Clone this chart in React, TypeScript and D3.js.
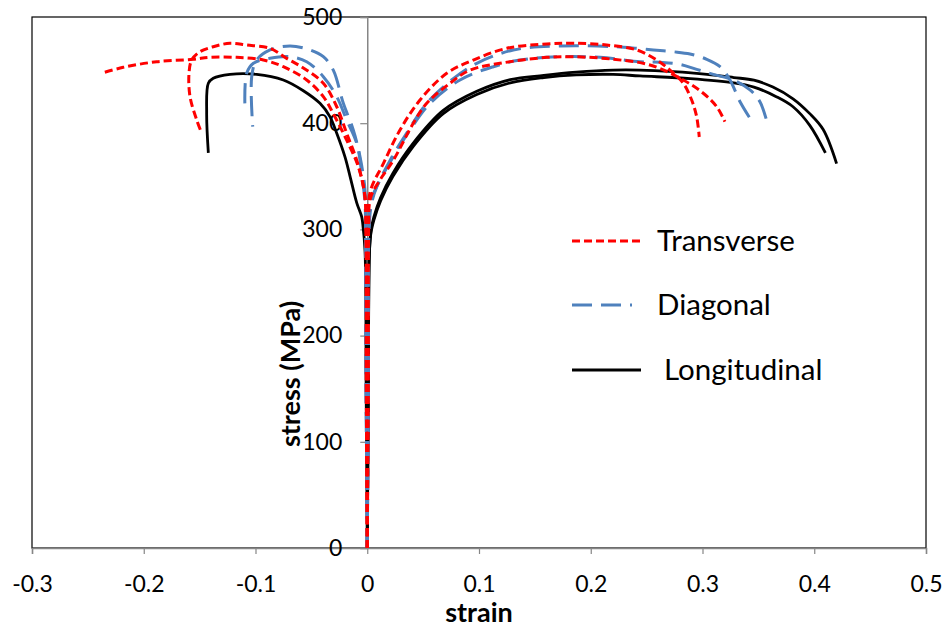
import React, { useEffect, useRef } from "react";
import * as d3 from "d3";

type Pt = [number, number];

const xTicks = [-0.3, -0.2, -0.1, 0, 0.1, 0.2, 0.3, 0.4, 0.5];
const yTicks = [0, 100, 200, 300, 400, 500];

// Transverse specimens (axial strain > 0, lateral strain < 0)
const transverseA: Pt[] = [
  [0, 0], [0.0008, 150], [0.0012, 300], [0.0025, 335], [0.0144, 362], [0.0293, 393.6],
  [0.0472, 421.8], [0.0711, 447], [0.0949, 459.5], [0.1248, 470.5], [0.1606, 474.6],
  [0.1844, 475.3], [0.2143, 473.6], [0.2411, 469], [0.259, 459.5], [0.2709, 450],
  [0.2828, 437.6], [0.2903, 421.8], [0.2948, 406], [0.2971, 387],
];
const transverseB: Pt[] = [
  [0, 0], [0.0008, 150], [0.0012, 300], [0.003, 330], [0.0114, 346.5], [0.0233, 365],
  [0.0412, 400], [0.0532, 418.7], [0.074, 437.6], [0.0919, 450], [0.1188, 456.4],
  [0.1606, 462], [0.1844, 462.6], [0.2202, 460.2], [0.253, 454.8], [0.2828, 440.7],
  [0.3007, 428.2], [0.3127, 415.5], [0.3201, 401.4],
];
const transverseALat: Pt[] = [
  [0, 0], [-0.0008, 150], [-0.001, 300], [-0.0025, 335], [-0.0094, 365], [-0.0184, 390.5],
  [-0.0273, 415.5], [-0.0393, 437.6], [-0.0572, 452], [-0.0721, 461], [-0.087, 470.5],
  [-0.1079, 473.6], [-0.1228, 475.3], [-0.1378, 472], [-0.1497, 467.3], [-0.1571, 459.5],
  [-0.1595, 447], [-0.1586, 425], [-0.1526, 403], [-0.1481, 390.5],
];
const transverseBLat: Pt[] = [
  [0, 0], [-0.0008, 150], [-0.0012, 300], [-0.002, 330], [-0.008, 359], [-0.0184, 384],
  [-0.0304, 409], [-0.0393, 425], [-0.0542, 440.7], [-0.0751, 453.2], [-0.093, 459.5],
  [-0.1168, 462], [-0.1407, 462], [-0.1556, 460.2], [-0.1884, 457.9], [-0.2183, 452.6],
  [-0.2362, 447.6],
];

// Diagonal specimens
const diagonalA: Pt[] = [
  [0, 0], [0.001, 150], [0.0015, 300], [0.003, 325], [0.007, 337], [0.0204, 365],
  [0.0353, 390.6], [0.0532, 418.7], [0.077, 442], [0.098, 456.4], [0.1307, 468.9],
  [0.1725, 472.7], [0.2202, 472.1], [0.2411, 470.5], [0.256, 469], [0.2739, 467.3],
  [0.2888, 465.2], [0.3038, 460.2], [0.3157, 453.2], [0.3246, 440.7], [0.3336, 420.2],
  [0.3425, 404.6],
];
const diagonalB: Pt[] = [
  [0, 0], [0.001, 150], [0.0015, 300], [0.004, 325], [0.0085, 340], [0.0233, 368.5],
  [0.0383, 393.6], [0.0562, 418.7], [0.083, 440.7], [0.1128, 453.2], [0.1367, 459.5],
  [0.1725, 462.6], [0.2083, 462], [0.2441, 457.9], [0.262, 457.3], [0.2799, 455.4],
  [0.2948, 450.7], [0.3097, 446], [0.3276, 440.7], [0.3425, 431.3], [0.3514, 420.2],
  [0.3589, 396.7],
];
const diagonalALat: Pt[] = [
  [0, 0], [-0.001, 150], [-0.0015, 300], [-0.002, 337], [-0.0065, 368.5], [-0.0125, 393.6],
  [-0.0214, 418.7], [-0.0304, 450], [-0.0393, 462.6], [-0.0512, 469], [-0.0691, 472.7],
  [-0.087, 469], [-0.099, 459.5], [-0.1034, 443.8], [-0.1025, 396.7],
];
const diagonalBLat: Pt[] = [
  [0, 0], [-0.001, 150], [-0.0015, 300], [-0.002, 324.6], [-0.005, 352.8], [-0.0094, 381],
  [-0.0184, 403], [-0.0273, 425], [-0.0393, 443.8], [-0.0542, 457.9], [-0.0691, 462.6],
  [-0.087, 461.1], [-0.1019, 456.4], [-0.1079, 447], [-0.1094, 412.4],
];

// Longitudinal specimens
const longitudinalA: Pt[] = [
  [0, 0], [0.001, 150], [0.002, 280], [0.0035, 300], [0.006, 312], [0.012, 330],
  [0.023, 353], [0.041, 381], [0.068, 412], [0.098, 430], [0.128, 441], [0.158, 445],
  [0.187, 448], [0.22, 450], [0.244, 450], [0.274, 448.5], [0.304, 446], [0.328, 443],
  [0.346, 440.5], [0.363, 434], [0.381, 423], [0.396, 409], [0.408, 394], [0.42, 362],
];
const longitudinalB: Pt[] = [
  [0, 0], [0.001, 150], [0.002, 280], [0.0035, 298], [0.006, 309], [0.012, 327],
  [0.023, 350], [0.041, 378], [0.068, 409], [0.098, 427], [0.128, 438], [0.158, 443],
  [0.187, 445.5], [0.22, 446], [0.244, 444.5], [0.289, 442], [0.328, 438], [0.346, 434],
  [0.366, 425], [0.381, 415.5], [0.396, 398], [0.41, 372],
];
const longitudinalLat: Pt[] = [
  [0, 0], [-0.001, 150], [-0.002, 280], [-0.004, 305], [-0.005, 312], [-0.0094, 325],
  [-0.0154, 350], [-0.02, 368.5], [-0.0273, 390.5], [-0.0333, 406], [-0.0423, 418.7],
  [-0.0572, 430.6], [-0.0751, 440.7], [-0.0989, 446], [-0.1228, 446], [-0.1378, 442.3],
  [-0.1422, 437.6], [-0.1437, 409], [-0.1422, 372],
];

const seriesNames = ["Transverse", "Diagonal", "Longitudinal"];

export default function App() {
  const ref = useRef<SVGSVGElement>(null);

  useEffect(() => {
    const width = 947;
    const height = 630;
    const svg = d3.select(ref.current).attr("width", width).attr("height", height);
    svg.selectAll("*").remove();
    const font = "Lato, 'Open Sans', sans-serif";

    const x = d3.scaleLinear().domain([-0.3, 0.5]).range([32, 926]);
    const y = d3.scaleLinear().domain([0, 500]).range([548, 17]);

    // plot frame
    svg
      .append("rect")
      .attr("x", 32)
      .attr("y", 17)
      .attr("width", 894)
      .attr("height", 531)
      .attr("fill", "none")
      .attr("stroke", "#000")
      .attr("stroke-width", 1.2);

    // x axis
    const gx = svg
      .append("g")
      .attr("transform", `translate(0,${y(0)})`)
      .call(d3.axisBottom(x).tickValues(xTicks).tickSize(6).tickFormat((d) => `${d}`));
    gx.select(".domain").attr("stroke", "#868686").attr("stroke-width", 1.5);
    gx.selectAll(".tick line").attr("stroke", "#868686").attr("stroke-width", 1.2);
    gx.selectAll(".tick text")
      .attr("font-family", font)
      .attr("font-size", 23)
      .attr("fill", "#000")
      .attr("dy", 35);

    // y axis at strain = 0
    const gy = svg
      .append("g")
      .attr("transform", `translate(${x(0)},0)`)
      .call(d3.axisLeft(y).tickValues(yTicks).tickSize(7).tickFormat((d) => `${d}`));
    gy.select(".domain").attr("stroke", "#868686").attr("stroke-width", 1.5);
    gy.selectAll(".tick line").attr("stroke", "#868686").attr("stroke-width", 1.2);
    gy.selectAll(".tick text")
      .attr("font-family", font)
      .attr("font-size", 23)
      .attr("fill", "#000")
      .attr("x", -25);

    const line = d3
      .line<Pt>()
      .x((d) => x(d[0]))
      .y((d) => y(d[1]))
      .curve(d3.curveCatmullRom.alpha(0.5));

    const styles = [
      { color: "#FF0000", dash: "8,4", w: 3 },
      { color: "#4F81BD", dash: "20,9", w: 3 },
      { color: "#000000", dash: null, w: 2.8 },
    ];
    const groups: Pt[][][] = [
      [transverseA, transverseB, transverseALat, transverseBLat],
      [diagonalA, diagonalB, diagonalALat, diagonalBLat],
      [longitudinalA, longitudinalB, longitudinalLat],
    ];

    // draw black first, then blue, then red on top
    [2, 1, 0].forEach((i) => {
      groups[i].forEach((pts) => {
        svg
          .append("path")
          .attr("d", line(pts))
          .attr("fill", "none")
          .attr("stroke", styles[i].color)
          .attr("stroke-width", styles[i].w)
          .attr("stroke-dasharray", styles[i].dash)
          .attr("stroke-linejoin", "round");
      });
    });

    // legend
    const legY = [241, 305, 370];
    const legLen = [69, 60, 69];
    const legTx = [657, 657, 664];
    seriesNames.forEach((name, i) => {
      svg
        .append("line")
        .attr("x1", 572)
        .attr("x2", 572 + legLen[i])
        .attr("y1", legY[i])
        .attr("y2", legY[i])
        .attr("stroke", styles[i].color)
        .attr("stroke-width", styles[i].w)
        .attr("stroke-dasharray", styles[i].dash);
      svg
        .append("text")
        .attr("x", legTx[i])
        .attr("y", legY[i] + 10)
        .attr("font-family", font)
        .attr("font-size", 29.5)
        .attr("fill", "#000")
        .text(name);
    });

    // axis titles
    svg
      .append("text")
      .attr("x", 479)
      .attr("y", 622)
      .attr("text-anchor", "middle")
      .attr("font-family", font)
      .attr("font-size", 27)
      .attr("font-weight", "700")
      .text("strain");

    svg
      .append("text")
      .attr("transform", `translate(300, 374) rotate(-90)`)
      .attr("text-anchor", "middle")
      .attr("font-family", font)
      .attr("font-size", 27)
      .attr("font-weight", "700")
      .text("stress (MPa)");
  }, []);

  return <svg ref={ref} style={{ position: "absolute", left: 0, top: 0 }} />;
}
